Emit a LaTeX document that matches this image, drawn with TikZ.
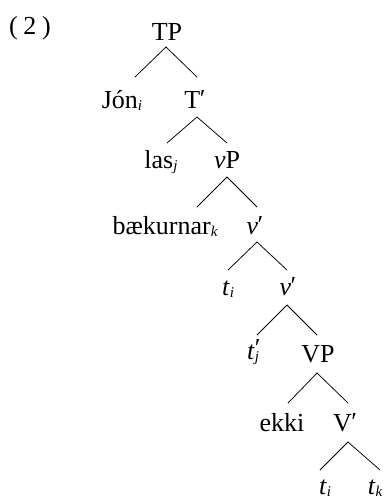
\documentclass[tikz,border=0pt]{standalone}
\usepackage{fontspec}
\setmainfont{Liberation Serif}
\usetikzlibrary{calc}

% small italic index set below the baseline
\newcommand{\idx}[1]{\raisebox{-0.09em}{\fontsize{15}{15}\selectfont\itshape #1}}
% prime mark
\newcommand{\pr}{\kern-0.02em\raisebox{0.02em}{′}}

\tikzset{
  lbl/.style={anchor=base, inner sep=0pt, font=\fontsize{26}{30}\selectfont},
  branch/.style={line width=0.75pt, black},
}

\begin{document}
\begin{tikzpicture}[x=1pt, y=-1pt]
\useasboundingbox (0,0) rectangle (387,499);

% example number
\node[lbl] (num) at (30,34) {(\kern0.22em2\kern0.22em)};

% labels of the tree
\node[lbl] (TP)   at (167,40)  {TP};
\node[lbl] (Jon)  at (122,108) {Jón\idx{i}};
\node[lbl] (Tb)   at (195,108) {T\pr};
\node[lbl] (las)  at (161,168) {las\idx{j}};
\node[lbl] (vP)   at (227,168) {\textit{v}P};
\node[lbl] (baek) at (165,234) {bækurnar\idx{k}};
\node[lbl] (vb1)  at (255,234) {\textit{v}\pr};
\node[lbl] (ti1)  at (228,295) {\textit{t}\idx{i}};
\node[lbl] (vb2)  at (288,295) {\textit{v}\pr};
\node[lbl] (tj)   at (253,359) {\textit{t}\rlap{\raisebox{0.08em}{′}}\idx{j}};
\node[lbl] (VP)   at (318,362) {VP};
\node[lbl] (ekki) at (282,431) {ekki};
\node[lbl] (Vb)   at (345,431) {V\pr};
\node[lbl] (ti2)  at (325,494) {\textit{t}\idx{i}};
\node[lbl] (tk)   at (375,494) {\textit{t}\idx{k}};

% branch points: apex under each mother, line ends over each daughter
\coordinate (TP-a)   at (166,47);
\coordinate (Jon-t)  at (135,77);
\coordinate (Tb-t)   at (197,77);
\coordinate (Tb-a)   at (197,117);
\coordinate (las-t)  at (167,143);
\coordinate (vP-t)   at (227,143);
\coordinate (vP-a)   at (227,177);
\coordinate (baek-t) at (197,207);
\coordinate (vb1-t)  at (257,207);
\coordinate (vb1-a)  at (257,242);
\coordinate (ti1-t)  at (228,270);
\coordinate (vb2-t)  at (287,270);
\coordinate (vb2-a)  at (287,305);
\coordinate (tj-t)   at (257,335);
\coordinate (VP-t)   at (317,335);
\coordinate (VP-a)   at (317,373);
\coordinate (ekki-t) at (288,403);
\coordinate (Vb-t)   at (348,403);
\coordinate (Vb-a)   at (348,442);
\coordinate (ti2-t)  at (320,470);
\coordinate (tk-t)   at (380,470);

\draw[branch] (Jon-t) -- (TP-a) -- (Tb-t);
\draw[branch] (las-t) -- (Tb-a) -- (vP-t);
\draw[branch] (baek-t) -- (vP-a) -- (vb1-t);
\draw[branch] (ti1-t) -- (vb1-a) -- (vb2-t);
\draw[branch] (tj-t) -- (vb2-a) -- (VP-t);
\draw[branch] (ekki-t) -- (VP-a) -- (Vb-t);
\draw[branch] (ti2-t) -- (Vb-a) -- (tk-t);
\end{tikzpicture}
\end{document}
